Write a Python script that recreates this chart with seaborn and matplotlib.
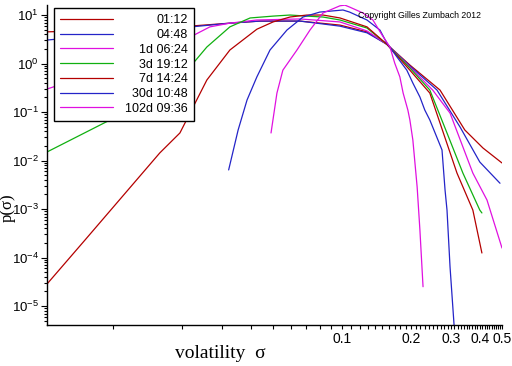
# -*- coding: utf-8 -*-
"""
Volatility distribution p(sigma) for several time horizons, log-log plot.
"""

import pandas as pd
import seaborn as sns
import matplotlib.pyplot as plt
from matplotlib.ticker import NullFormatter

# --- data ---
horizons = ["01:12", "04:48", "1d 06:24", "3d 19:12", "7d 14:24", "30d 10:48", "102d 09:36"]
line_colors = ["#b40000", "#2424c8", "#e010e0", "#10b010", "#b40000", "#2424c8", "#e010e0"]

sigma_0112 = [0.00515, 0.0101, 0.0196, 0.0324, 0.0438, 0.0656, 0.098, 0.1286, 0.157, 0.198, 0.268, 0.344, 0.413, 0.50]
p_0112 = [4.5, 4.9, 5.7, 6.8, 7.5, 7.5, 6.2, 4.5, 2.5, 0.93, 0.284, 0.0426, 0.0181, 0.0089]

sigma_0448 = [0.00515, 0.0101, 0.0196, 0.0324, 0.0438, 0.0656, 0.098, 0.1286, 0.157, 0.198, 0.260, 0.328, 0.40, 0.49]
p_0448 = [3.05, 4.06, 5.4, 6.8, 7.5, 7.5, 5.9, 4.3, 2.5, 0.89, 0.284, 0.049, 0.0093, 0.0034]

sigma_1d = [0.00515, 0.0101, 0.0196, 0.0217, 0.0265, 0.0324, 0.0425, 0.0656, 0.098, 0.1286, 0.157, 0.198,
            0.249, 0.2965, 0.373, 0.43, 0.50]
p_1d = [0.298, 0.85, 2.4, 3.5, 5.7, 6.8, 7.9, 8.3, 7.2, 4.7, 2.5, 0.85,
        0.284, 0.095, 0.0055, 0.00153, 0.000157]

sigma_3d = [0.00515, 0.0097, 0.0177, 0.0217, 0.0257, 0.0324, 0.0397, 0.050, 0.0593, 0.0703, 0.0826, 0.098,
            0.1286, 0.157, 0.198, 0.242, 0.2876, 0.3375, 0.40, 0.4085]
p_3d = [0.015, 0.0684, 0.284, 0.85, 2.19, 5.7, 8.7, 9.5, 10.0, 9.5, 9.1, 7.9,
        5.4, 2.5, 0.81, 0.284, 0.0369, 0.0055, 0.00095, 0.00083]

sigma_7d = [0.00515, 0.00755, 0.016, 0.0196, 0.0257, 0.0324, 0.0425, 0.050, 0.0593, 0.0703, 0.0826, 0.098,
            0.1286, 0.157, 0.198, 0.242, 0.318, 0.373, 0.4085]
p_7d = [2.84e-5, 2.3e-4, 0.0143, 0.037, 0.457, 1.9, 5.1, 7.2, 9.1, 10.0, 10.0, 8.7,
        5.7, 2.5, 0.73, 0.246, 0.0055, 0.00095, 0.000124]

sigma_30d = [0.032, 0.0352, 0.0385, 0.0425, 0.0485, 0.0575, 0.0676, 0.080, 0.101, 0.108, 0.1286, 0.1465,
             0.157, 0.174, 0.192, 0.204, 0.219, 0.230, 0.242, 0.2735, 0.282, 0.2876, 0.2965, 0.312]
p_30d = [0.0064, 0.0426, 0.177, 0.53, 1.9, 4.9, 9.1, 11.5, 12.7, 11.5, 7.9, 4.9,
         2.65, 1.36, 0.73, 0.396, 0.204, 0.110, 0.0684, 0.0165, 0.00246, 0.00095, 6.4e-5, 2.0e-6]

sigma_102d = [0.049, 0.052, 0.0552, 0.0636, 0.0725, 0.0826, 0.098, 0.103, 0.108, 0.1236, 0.1365, 0.1495,
              0.162, 0.170, 0.179, 0.185, 0.194, 0.198, 0.204, 0.213, 0.219, 0.226]
p_102d = [0.037, 0.246, 0.73, 1.9, 4.9, 11.0, 15.5, 16.0, 14.6, 11.0, 7.9, 3.9,
          2.19, 1.02, 0.53, 0.246, 0.110, 0.0684, 0.0265, 0.00284, 0.00037, 2.5e-5]

sigma_series = [sigma_0112, sigma_0448, sigma_1d, sigma_3d, sigma_7d, sigma_30d, sigma_102d]
p_series = [p_0112, p_0448, p_1d, p_3d, p_7d, p_30d, p_102d]

x_minor_ticks = [0.11, 0.12, 0.13, 0.14, 0.15, 0.16, 0.17, 0.18, 0.19,
                 0.21, 0.22, 0.23, 0.24, 0.25, 0.26, 0.27, 0.28, 0.29,
                 0.31, 0.32, 0.33, 0.34, 0.35, 0.36, 0.37, 0.38, 0.39,
                 0.41, 0.42, 0.43, 0.44, 0.45, 0.46, 0.47, 0.48, 0.49]
x_major_ticks = [0.01, 0.02, 0.03, 0.04, 0.05, 0.06, 0.07, 0.08, 0.09, 0.1, 0.2, 0.3, 0.4, 0.5]
x_major_labels = [""] * 9 + ["0.1", "0.2", "0.3", "0.4", "0.5"]
y_major_ticks = [1e-5, 1e-4, 1e-3, 1e-2, 1e-1, 1e0, 1e1]
y_major_labels = ["$10^{-5}$", "$10^{-4}$", "$10^{-3}$", "$10^{-2}$", "$10^{-1}$", "$10^{0}$", "$10^{1}$"]


def build_frame():
    """Long-form table, one row per point."""
    parts = []
    for name, s, p in zip(horizons, sigma_series, p_series):
        parts.append(pd.DataFrame({"sigma": s, "p": p, "horizon": name}))
    return pd.concat(parts, ignore_index=True)


def main():
    sns.set_style("ticks", rc={"axes.edgecolor": "black", "text.color": "black",
                               "xtick.color": "black", "ytick.color": "black",
                               "axes.labelcolor": "black"})
    plt.rcParams["font.family"] = ["Liberation Sans", "DejaVu Sans"]
    plt.rcParams["mathtext.default"] = "regular"

    df = build_frame()

    fig = plt.figure(figsize=(5.12, 3.66), dpi=100)
    ax = fig.add_axes([47 / 512, 1 - 325 / 366, 455 / 512, 320 / 366])
    ax.set_xscale("log")
    ax.set_yscale("log")

    sns.lineplot(data=df, x="sigma", y="p", hue="horizon", hue_order=horizons,
                 palette=line_colors, estimator=None, sort=False, legend=False,
                 linewidth=0.9, ax=ax)

    for side in ["top", "right"]:
        ax.spines[side].set_visible(False)
    for side in ["left", "bottom"]:
        ax.spines[side].set_linewidth(1.0)

    # x ticks: only 0.1 .. 0.5 labelled
    ax.set_xticks(x_major_ticks)
    ax.set_xticklabels(x_major_labels)
    ax.set_xticks(x_minor_ticks, minor=True)
    ax.set_yticks(y_major_ticks)
    ax.set_yticklabels(y_major_labels)
    ax.set_xlim(0.00515, 0.5)
    ax.set_ylim(4.06e-6, 16.1)
    ax.xaxis.set_minor_formatter(NullFormatter())
    ax.yaxis.set_minor_formatter(NullFormatter())
    ax.tick_params(axis="x", which="both", direction="out", length=2.9, width=0.8,
                   labelsize=10, pad=2)
    ax.tick_params(axis="y", which="major", direction="out", length=4.3, width=0.8,
                   labelsize=9.5, pad=1.5)
    ax.tick_params(axis="y", which="minor", direction="out", length=2.5, width=0.8)

    ax.set_xlabel("volatility  σ", fontfamily="Liberation Serif", fontsize=14, va="baseline")
    ax.xaxis.set_label_coords(0.38, -0.103)
    ax.set_ylabel("p(σ)", fontfamily="Liberation Serif", fontsize=12, va="baseline")
    ax.yaxis.set_label_coords(-0.0769, 0.366)

    fig.text(419 / 512, 1 - 16 / 366, "Copyright Gilles Zumbach 2012",
             fontsize=6.3, ha="center", va="center")

    leg = ax.legend(ax.get_lines()[:len(horizons)], horizons, loc="upper left",
                    bbox_to_anchor=(54 / 512, 1 - 8 / 366), bbox_transform=fig.transFigure,
                    borderaxespad=0, fancybox=False, edgecolor="black", framealpha=1,
                    fontsize=9, handlelength=4.2, handletextpad=1.0,
                    labelspacing=0.22, borderpad=0.5)
    leg.get_frame().set_linewidth(1.0)

    # right-align the legend labels like the original
    fig.canvas.draw()
    renderer = fig.canvas.get_renderer()
    texts = leg.get_texts()
    widths = [t.get_window_extent(renderer).width for t in texts]
    wmax = max(widths)
    for t, w in zip(texts, widths):
        t.set_position((wmax - w, 0))

    fig.savefig("out.png", dpi=100)
    plt.close(fig)


if __name__ == "__main__":
    main()
